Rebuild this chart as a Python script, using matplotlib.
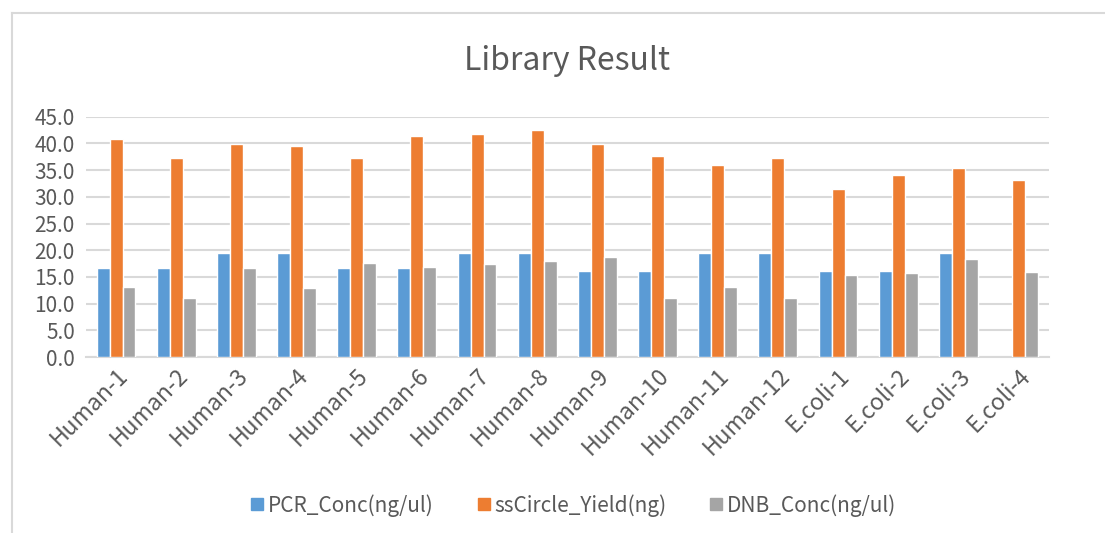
import numpy as np
import matplotlib.pyplot as plt
from matplotlib.lines import Line2D

plt.rcParams['font.family'] = ['Noto Sans CJK SC', 'DejaVu Sans']

samples = ['Human-1', 'Human-2', 'Human-3', 'Human-4', 'Human-5', 'Human-6',
           'Human-7', 'Human-8', 'Human-9', 'Human-10', 'Human-11', 'Human-12',
           'E.coli-1', 'E.coli-2', 'E.coli-3', 'E.coli-4']
pcr_conc = [16.7, 16.7, 19.4, 19.4, 16.7, 16.7, 19.4, 19.4,
            16.1, 16.1, 19.4, 19.4, 16.1, 16.1, 19.4, np.nan]
sscircle_yield = [40.8, 37.2, 39.9, 39.5, 37.2, 41.3, 41.8, 42.6,
                  39.9, 37.7, 35.9, 37.2, 31.4, 34.1, 35.4, 33.2]
dnb_conc = [13.1, 11.0, 16.7, 12.9, 17.6, 16.9, 17.4, 17.9,
            18.8, 11.0, 13.1, 11.0, 15.4, 15.7, 18.4, 15.9]
series_names = ['PCR_Conc(ng/ul)', 'ssCircle_Yield(ng)', 'DNB_Conc(ng/ul)']
colors = ['#5b9bd5', '#ed7d31', '#a5a5a5']
text_col = '#595959'

fig = plt.figure(figsize=(11.05, 5.33), dpi=100)
ax = fig.add_axes([0.0778, 0.330, 0.8712, 0.451])

x = np.arange(len(samples))
w = 0.215
for i, vals in enumerate([pcr_conc, sscircle_yield, dnb_conc]):
    ax.bar(x + (i - 1) * w, vals, width=w, color=colors[i],
           edgecolor='white', linewidth=1.0, zorder=3, label=series_names[i])

ax.set_xlim(-0.5, len(samples) - 0.5)
ax.set_ylim(0, 45)
ax.set_yticks(np.arange(0, 46, 5))
ax.set_yticklabels(['%.1f' % v for v in np.arange(0, 46, 5)], fontsize=15, color=text_col)
ax.set_xticks(x)
ax.set_xticklabels(samples, rotation=45, ha='right', va='top',
                   rotation_mode='anchor', fontsize=16.5, color=text_col)
ax.tick_params(axis='both', length=0)
ax.tick_params(axis='x', pad=5)
ax.tick_params(axis='y', pad=8)
ax.grid(axis='y', color='#d9d9d9', linewidth=1.5, zorder=0)
for s in ['top', 'right', 'left']:
    ax.spines[s].set_visible(False)
ax.spines['bottom'].set_color('#d9d9d9')
ax.spines['bottom'].set_linewidth(1.5)

fig.suptitle('Library Result', x=0.513, y=0.915, fontsize=23, color=text_col)

handles = [Line2D([], [], marker='s', linestyle='none', markersize=8,
                  markerfacecolor=c, markeredgecolor=c) for c in colors]
fig.legend(handles, series_names, loc='center', bbox_to_anchor=(0.518, 0.052),
           ncol=3, frameon=False, fontsize=15, labelcolor=text_col,
           handletextpad=0.1, columnspacing=2.0, handlelength=0.8)

# outer chart border (left and top visible)
fig.add_artist(Line2D([12 / 1105, 12 / 1105], [0, 1 - 13 / 533], color='#d9d9d9',
                      linewidth=1.5, transform=fig.transFigure))
fig.add_artist(Line2D([12 / 1105, 1], [1 - 13 / 533, 1 - 13 / 533], color='#d9d9d9',
                      linewidth=1.5, transform=fig.transFigure))

fig.savefig('out.png', dpi=100)
